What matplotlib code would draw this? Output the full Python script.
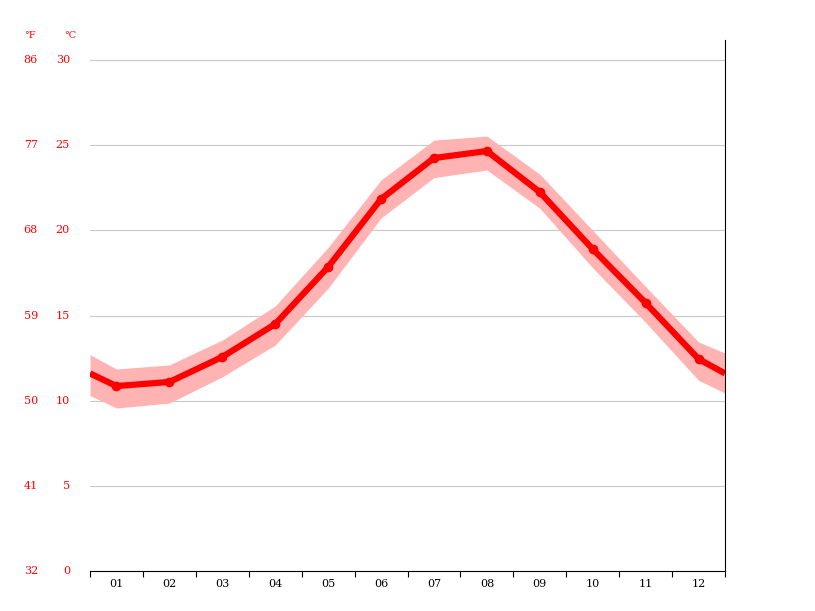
import matplotlib
matplotlib.use("Agg")
import matplotlib.pyplot as plt

months = ["01","02","03","04","05","06","07","08","09","10","11","12"]
temp = [10.86,11.1,12.57,14.5,17.85,21.84,24.25,24.66,22.25,18.9,15.74,12.45]
band_hi = [11.86,12.1,13.56,15.56,19.0,22.96,25.3,25.54,23.3,20.0,16.7,13.45]
band_lo = [9.57,9.86,11.4,13.27,16.6,20.73,23.1,23.55,21.3,17.8,14.6,11.2]
edge_temp = [11.6, 11.6]
edge_hi = [12.7, 12.8]
edge_lo = [10.3, 10.45]
c_ticks = [0,5,10,15,20,25,30]
f_labels = ["32","41","50","59","68","77","86"]

fig = plt.figure(figsize=(8.15,6.11), dpi=100)
ax = fig.add_axes([90/815, 40/611, 635/815, 531/611])
xs = [0.5] + list(range(1,13)) + [12.5]
ax.fill_between(xs, [edge_lo[0]]+band_lo+[edge_lo[1]], [edge_hi[0]]+band_hi+[edge_hi[1]],
                color="#ffb3b3", lw=0)
ax.plot(xs, [edge_temp[0]]+temp+[edge_temp[1]], color="#ff0000", lw=4.5, solid_capstyle="butt")
ax.plot(range(1,13), temp, "o", color="#ff0000", ms=6)
ax.set_xlim(0.5,12.5)
ax.set_ylim(0, 531/17.03)
for c in c_ticks[1:]:
    ax.axhline(c, color="#c8c8c8", lw=0.8, zorder=0)
for s in ["top","left"]:
    ax.spines[s].set_visible(False)
ax.spines["right"].set_color("black")
ax.spines["bottom"].set_color("black")
ax.set_yticks([])
ax.set_xticks([i+0.5 for i in range(0,13)])
ax.set_xticklabels([])
ax.set_xticks(range(1,13), minor=True)
ax.set_xticklabels(months, minor=True, fontsize=8, family="DejaVu Serif")
ax.tick_params(axis="x", which="major", length=4, color="black")
ax.tick_params(axis="x", which="minor", length=0, pad=6)
for c, f in zip(c_ticks, f_labels):
    ax.text(-0.42 if False else 0.5 - 20/52.9, c, str(c), ha="right", va="center", color="red", fontsize=8, family="DejaVu Serif", transform=ax.transData)
    ax.text(0.5 - 52/52.9, c, f, ha="right", va="center", color="red", fontsize=8, family="DejaVu Serif")
fig.text(70/815, 1-36/611, "°C", color="red", fontsize=7, family="DejaVu Serif", ha="center", va="center")
fig.text(30/815, 1-36/611, "°F", color="red", fontsize=7, family="DejaVu Serif", ha="center", va="center")
fig.savefig("out.png", dpi=100)
